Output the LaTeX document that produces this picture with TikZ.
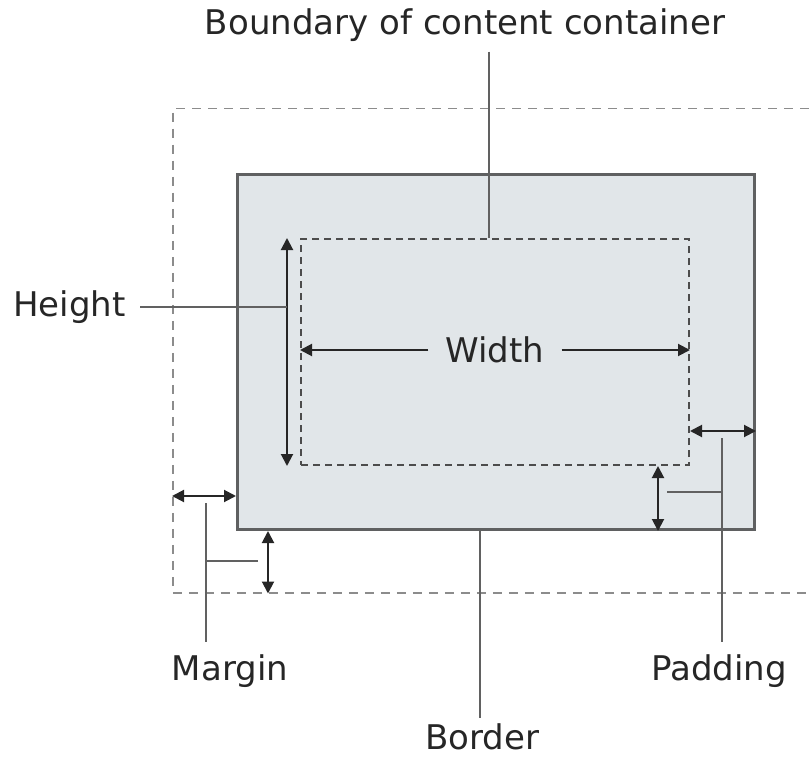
\documentclass[tikz,border=0pt]{standalone}
\usepackage{fontspec}
\setmainfont{DejaVu Sans}
\usetikzlibrary{arrows.meta, positioning, calc}
\definecolor{boxfill}{RGB}{225,230,233}
\definecolor{edgegray}{RGB}{95,96,97}

\begin{document}
\begin{tikzpicture}[x=1pt, y=-1pt,
    lbl/.style={font=\fontsize{34}{38}\selectfont, text=black!85, inner sep=0pt},
    dim/.style={draw=black!85, line width=2pt},
    tip/.style={-{Triangle[length=12pt,width=12pt]}},
    tips/.style={{Triangle[length=12pt,width=12pt]}-{Triangle[length=12pt,width=12pt]}},
    lead/.style={draw=black!62, line width=1.8pt}]
    \clip (0,0) rectangle (809,757);

    % boxes
    \node[draw=black!45, dash pattern=on 9pt off 7pt, line width=1.5pt, minimum width=700pt, minimum height=484pt, anchor=north west, inner sep=0pt] (marginbox) at (172,108) {};
    \node[draw=edgegray, fill=boxfill, line width=3pt, minimum width=517pt, minimum height=355pt, anchor=north west, inner sep=0pt] (border) at (236,173) {};
    \node[draw=black!70, dash pattern=on 7pt off 5pt, line width=2pt, minimum width=388pt, minimum height=226pt, anchor=north west, inner sep=0pt] (content) at (300,238) {};

    % labels
    \node[lbl] (boundary) at (465,25) {Boundary of content container};
    \node[lbl, anchor=east] (height) at (126,307) {Height};
    \node[lbl, inner xsep=17pt] (width) at ($(content.center)+(0,-2)$) {Width};
    \node[lbl] (margin) at (230,671) {Margin};
    \node[lbl] (padding) at (719,671) {Padding};
    \node[lbl] (bordertxt) at (482,737) {Border};

    % boundary and height
    \coordinate (bnd) at ($(content.north)+(-6,0)$);
    \draw[lead] ($(bnd |- boundary.south)+(0,10)$) -- (bnd);
    \coordinate (hgt) at ($(content.north west)+(-13,0)$);
    \draw[dim, tips] (hgt) -- (hgt |- content.south);
    \draw[lead] ($(height.east)+(14,0)$) -- (height.east -| hgt);

    % width
    \draw[dim, tip] (width.west) -- (width.west -| content.west);
    \draw[dim, tip] (width.east) -- (width.east -| content.east);

    % padding
    \coordinate (padr) at ($(content.south east)+(0,-35)$);
    \draw[dim, tips] (padr) -- (padr -| border.east);
    \coordinate (padb) at ($(content.south east)+(-32,0)$);
    \draw[dim, tips] (padb) -- (padb |- border.south);
    \coordinate (padt) at ($(padr)+(32,7)$);
    \draw[lead] (padt) -- ($(padt |- padding.north)+(0,-12)$);
    \coordinate (padk) at ($(padb)+(9,26)$);
    \draw[lead] (padk) -- (padk -| padt);

    % margin
    \coordinate (marl) at ($(border.south west)+(0,-35)$);
    \draw[dim, tips] (marl -| marginbox.west) -- (marl);
    \coordinate (marb) at ($(border.south west)+(32,0)$);
    \draw[dim, tips] (marb) -- (marb |- marginbox.south);
    \coordinate (mart) at ($(marl -| marginbox.west)+(34,7)$);
    \draw[lead] (mart) -- ($(mart |- margin.north)+(0,-12)$);
    \coordinate (mark) at ($(marb)+(-10,30)$);
    \draw[lead] (mark) -- (mark -| mart);

    % border
    \coordinate (brd) at ($(border.south)+(-16,0)$);
    \draw[lead] (brd) -- ($(brd |- bordertxt.north)+(0,-6)$);
\end{tikzpicture}
\end{document}
